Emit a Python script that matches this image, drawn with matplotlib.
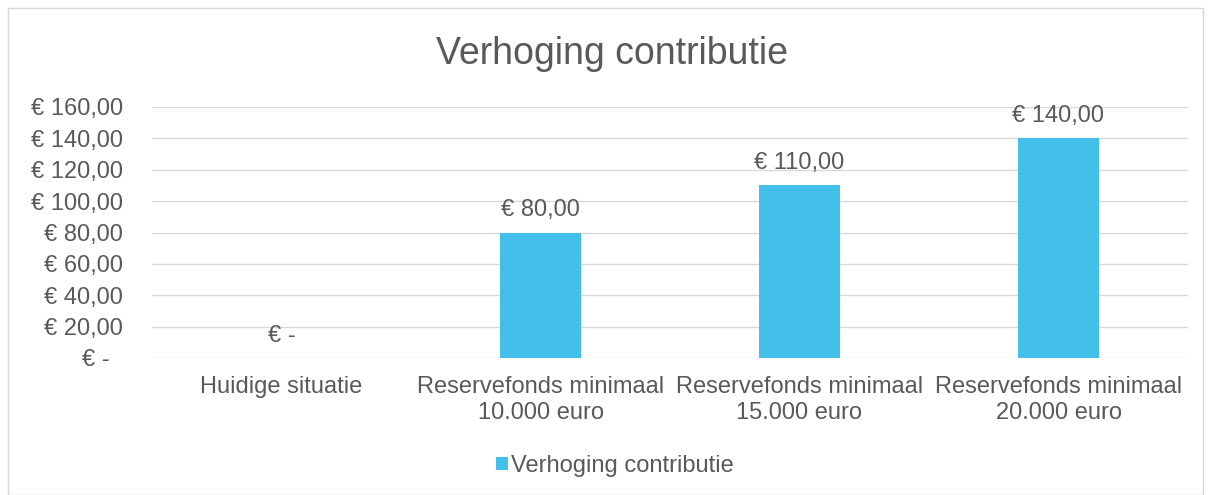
import matplotlib
matplotlib.use("Agg")
import matplotlib.pyplot as plt
from matplotlib.patches import Rectangle, Patch
from matplotlib.ticker import FuncFormatter, MultipleLocator

categories = ["Huidige situatie", "Reservefonds minimaal\n10.000 euro",
              "Reservefonds minimaal\n15.000 euro", "Reservefonds minimaal\n20.000 euro"]
values = [0, 80, 110, 140]
series_name = "Verhoging contributie"
title = "Verhoging contributie"

plt.rcParams['font.family'] = ['Liberation Sans', 'DejaVu Sans']
text_color = '#595959'
bar_color = '#43C0EA'
grid_color = '#D9D9D9'
fs = 17

fig = plt.figure(figsize=(12.12, 4.95), dpi=100)
fig.patches.append(Rectangle((8/1212, 0), 1195/1212, 1 - 8/495, transform=fig.transFigure,
                             fill=False, edgecolor='#D9D9D9', linewidth=1))

ax = fig.add_axes([152/1212, 1 - 358/495, (1188-152)/1212, (358-107)/495])
x = range(len(categories))
ax.bar(x, values, width=0.31, color=bar_color, zorder=3)
ax.set_xlim(-0.5, len(categories) - 0.5)
ax.set_ylim(0, 160)
ax.yaxis.set_major_locator(MultipleLocator(20))

def fmt(v, pos):
    if abs(v) < 1e-9:
        return "€ -  "
    return "€ " + f"{v:.2f}".replace(".", ",")
ax.yaxis.set_major_formatter(FuncFormatter(fmt))
ax.grid(axis='y', color=grid_color, linewidth=1, zorder=0)
for s in ax.spines.values():
    s.set_visible(False)
ax.tick_params(axis='both', length=0, colors=text_color, labelsize=fs)
ax.tick_params(axis='y', pad=21)
ax.tick_params(axis='x', pad=13)
ax.set_xticks(list(x))
ax.set_xticklabels(categories, linespacing=1.25)

for xi, v in zip(x, values):
    ax.annotate(fmt(v, None).strip(), (xi, v), xytext=(0, 16), textcoords='offset points',
                ha='center', va='center', fontsize=fs, color=text_color)

fig.text(612/1212, 1 - 54/495, title, ha='center', va='center', fontsize=27, color=text_color)

handles = [Patch(facecolor=bar_color, label=series_name)]
fig.legend(handles=handles, loc='center', bbox_to_anchor=(615/1212, 1 - 466/495), frameon=False,
           fontsize=fs, labelcolor=text_color, handlelength=0.5, handleheight=0.5,
           handletextpad=0.15)

fig.savefig("out.png", dpi=100)
